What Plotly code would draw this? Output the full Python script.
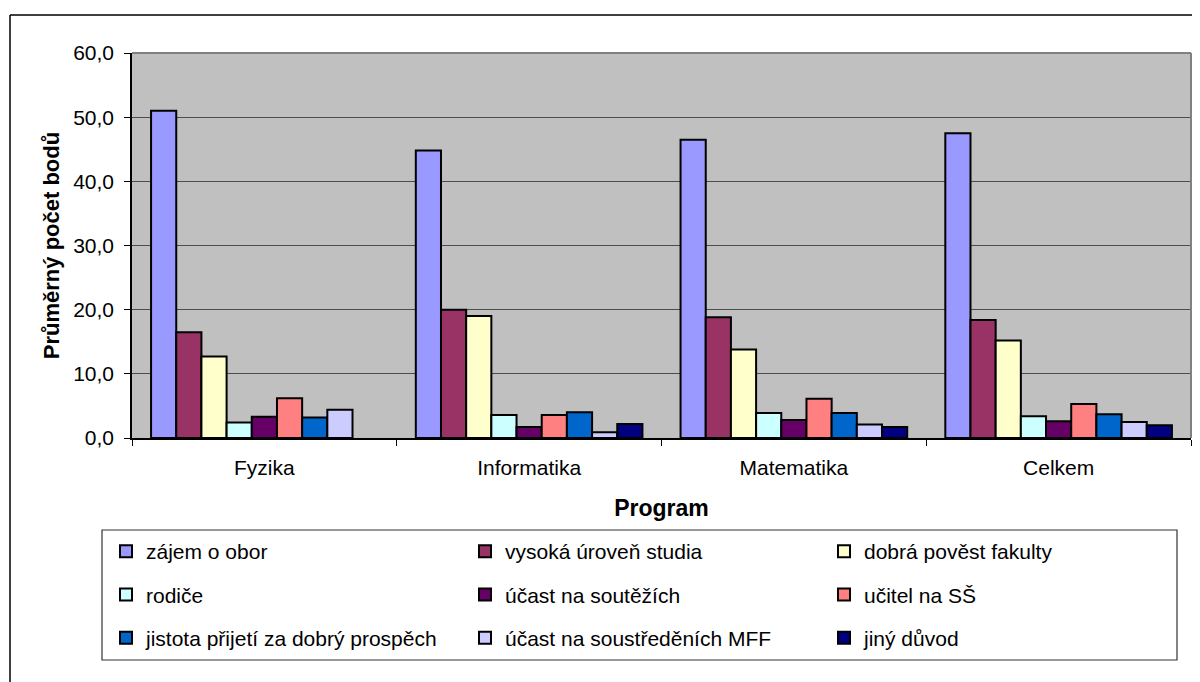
import plotly.graph_objects as go

# categories on the x axis
programs = ['Fyzika', 'Informatika', 'Matematika', 'Celkem']

# reasons (series) in legend order
reasons = [
    'zájem o obor',
    'vysoká úroveň studia',
    'dobrá pověst fakulty',
    'rodiče',
    'účast na soutěžích',
    'učitel na SŠ',
    'jistota přijetí za dobrý prospěch',
    'účast na soustředěních MFF',
    'jiný důvod',
]

# average points per program, one list per reason
zajem_o_obor = [51.0, 44.8, 46.5, 47.5]
vysoka_uroven = [16.5, 20.0, 18.8, 18.4]
dobra_povest = [12.7, 19.0, 13.8, 15.2]
rodice = [2.4, 3.6, 3.9, 3.4]
ucast_souteze = [3.3, 1.7, 2.8, 2.6]
ucitel_ss = [6.2, 3.6, 6.1, 5.3]
jistota_prijeti = [3.2, 4.0, 3.9, 3.7]
ucast_soustredeni = [4.4, 0.9, 2.1, 2.5]
jiny_duvod = [None, 2.2, 1.7, 2.0]

series = [zajem_o_obor, vysoka_uroven, dobra_povest, rodice, ucast_souteze,
          ucitel_ss, jistota_prijeti, ucast_soustredeni, jiny_duvod]

colors = ['#9999FF', '#993366', '#FFFFCC', '#CCFFFF', '#660066',
          '#FF8080', '#0066CC', '#CCCCFF', '#000080']

FONT = 'Liberation Sans, Arial, sans-serif'

# page body has an 8px margin, so the figure starts at (8, 8) on screen
OFF = 8
W, H = 1200 - OFF, 682 - OFF

# plot area on screen: x 132..1191, y 53..438
L = 132 - OFF
R = W - (1191 - OFF)
T = 53 - OFF
B = H - (438 - OFF)
PW, PH = W - L - R, H - T - B


def px_x(x):
    # screen x -> paper x
    return (x - OFF - L) / PW


def px_y(y):
    # screen y -> paper y
    return (H - B - (y - OFF)) / PH


fig = go.Figure()

# legend split into three columns, items fill rows left to right
for i, (name, vals, col) in enumerate(zip(reasons, series, colors)):
    fig.add_trace(go.Bar(
        name=name,
        x=programs,
        y=vals,
        marker=dict(color=col, line=dict(color='black', width=2)),
        legend=['legend', 'legend2', 'legend3'][i % 3],
        legendgroup=name,
        hovertemplate='%{x}<br>' + name + ': %{y:.1f}<extra></extra>',
    ))

legend_common = dict(
    orientation='v',
    xanchor='left',
    yanchor='top',
    bgcolor='rgba(0,0,0,0)',
    borderwidth=0,
    tracegroupgap=13,
    font=dict(family=FONT, size=21, color='black'),
    itemclick=False,
)

legend_top = px_y(531)

fig.update_layout(
    width=W,
    height=H,
    margin=dict(l=L, r=R, t=T, b=B, pad=0),
    paper_bgcolor='white',
    plot_bgcolor='#C0C0C0',
    separators=', ',
    barmode='group',
    bargap=0.144,
    bargroupgap=0,
    showlegend=True,
    font=dict(family=FONT, size=21, color='black'),
    legend=dict(x=px_x(106), y=legend_top, **legend_common),
    legend2=dict(x=px_x(465), y=legend_top, **legend_common),
    legend3=dict(x=px_x(824), y=legend_top, **legend_common),
    xaxis=dict(
        title=dict(text='<b>Program</b>', font=dict(size=23), standoff=22),
        tickson='boundaries',
        ticks='outside',
        ticklen=6,
        tickcolor='black',
        tickwidth=1,
        ticklabelstandoff=10,
        showline=True,
        linecolor='black',
        linewidth=1.5,
        showgrid=False,
        tickfont=dict(size=21),
    ),
    yaxis=dict(
        title=dict(text='<b>Průměrný počet bodů</b>', font=dict(size=22), standoff=7),
        range=[0, 60],
        dtick=10,
        tickformat='.1f',
        ticks='outside',
        ticklen=6,
        tickcolor='black',
        tickwidth=1,
        ticklabelstandoff=6,
        showline=True,
        linecolor='black',
        linewidth=1.5,
        showgrid=True,
        gridcolor='#4d4d4d',
        gridwidth=1,
        zeroline=False,
        tickfont=dict(size=21),
    ),
    shapes=[
        # grey top/right border of the plot area
        dict(type='line', xref='x domain', yref='y domain', x0=0, x1=1, y0=1, y1=1,
             line=dict(color='#808080', width=2), layer='above'),
        dict(type='line', xref='x domain', yref='y domain', x0=1, x1=1, y0=0, y1=1,
             line=dict(color='#808080', width=2), layer='above'),
        # legend box
        dict(type='rect', xref='paper', yref='paper',
             x0=px_x(102), x1=px_x(1177), y0=px_y(660), y1=px_y(530),
             line=dict(color='#333333', width=1.2)),
        # outer chart frame (top and left edges visible)
        dict(type='line', xref='paper', yref='paper',
             x0=px_x(10), x1=px_x(1210), y0=px_y(15), y1=px_y(15),
             line=dict(color='black', width=1.5)),
        dict(type='line', xref='paper', yref='paper',
             x0=px_x(10), x1=px_x(10), y0=px_y(15), y1=px_y(700),
             line=dict(color='black', width=1.5)),
    ],
)

fig.write_html('out.html')
